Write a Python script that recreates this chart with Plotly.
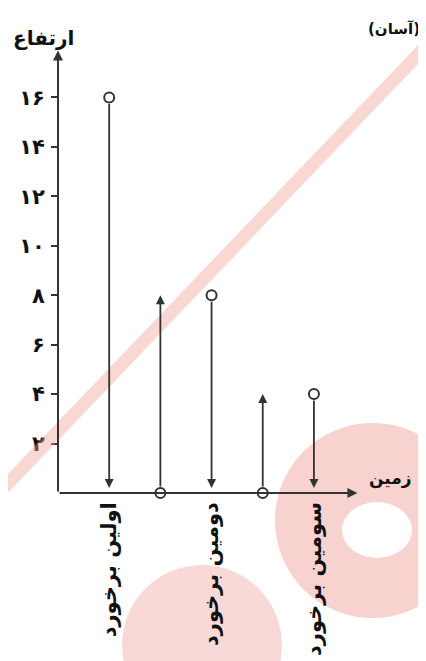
import plotly.graph_objects as go

# bounce data (height vs time)
drop_times = [1, 3, 5]
drop_heights = [16, 8, 4]
rise_times = [2, 4]
rise_heights = [8, 4]
impact_labels = ["اولین برخورد", "دومین برخورد", "سومین برخورد"]
ytick_vals = [2, 4, 6, 8, 10, 12, 14, 16]
ytick_text = ["۲", "۴", "۶", "۸", "۱۰", "۱۲", "۱۴", "۱۶"]

# the page body adds an 8px margin, so the figure is 8px smaller
OFF = 8
W, H = 426 - OFF, 661 - OFF
L, R, T, B = 50, 66, 40, 168
pw, ph = W - L - R, H - T - B
def px(x):
    return (x - OFF - L) / pw
def py(y):
    return (H - B - (y - OFF)) / ph

ink = "#333333"
fig = go.Figure()

# circles: top of each fall, bottom of each rise
fig.add_trace(go.Scatter(
    x=drop_times + rise_times,
    y=drop_heights + [0] * len(rise_times),
    mode="markers", cliponaxis=False, showlegend=False,
    marker=dict(symbol="circle", size=10, color="white", line=dict(color=ink, width=2))))

anns = []
# axes with arrows
anns.append(dict(x=5.85, y=0, ax=0, ay=0, xref="x", yref="y", axref="x", ayref="y",
                 text="", showarrow=True, arrowhead=2, arrowwidth=2, arrowcolor=ink))
anns.append(dict(x=0, y=17.9, ax=0, ay=0, xref="x", yref="y", axref="x", ayref="y",
                 text="", showarrow=True, arrowhead=2, arrowwidth=2, arrowcolor=ink))
for t, h in zip(drop_times, drop_heights):
    anns.append(dict(x=t, y=0.2, ax=t, ay=h, xref="x", yref="y", axref="x", ayref="y",
                     text="", showarrow=True, arrowhead=2, arrowwidth=1.8, arrowcolor=ink,
                     startstandoff=5))
for t, h in zip(rise_times, rise_heights):
    anns.append(dict(x=t, y=h, ax=t, ay=0, xref="x", yref="y", axref="x", ayref="y",
                     text="", showarrow=True, arrowhead=2, arrowwidth=1.8, arrowcolor=ink,
                     startstandoff=5))

bold = dict(family="DejaVu Sans", color="#111111", weight="bold")
anns.append(dict(x=px(11), y=py(24), xref="paper", yref="paper", text="ارتفاع",
                 showarrow=False, font=dict(size=20, **bold)))
anns.append(dict(x=px(414), y=py(491), xref="paper", yref="paper", text="زمین",
                 showarrow=False, font=dict(size=17, **bold)))
anns.append(dict(x=px(366), y=py(18), xref="paper", yref="paper", text="(آسان)",
                 xanchor="left", showarrow=False, font=dict(size=15, **bold)))

# pink watermark
pink = "rgba(240,160,150,0.42)"
shapes = [
    dict(type="line", xref="paper", yref="paper", x0=px(-5), y0=py(497), x1=px(432), y1=py(40),
         line=dict(color=pink, width=13), layer="above"),
    dict(type="circle", xref="paper", yref="paper", x0=px(275), y0=py(423), x1=px(470), y1=py(618),
         fillcolor="rgba(240,165,160,0.5)", line=dict(width=0), layer="below"),
    dict(type="circle", xref="paper", yref="paper", x0=px(342), y0=py(502), x1=px(412), y1=py(558),
         fillcolor="white", line=dict(width=0), layer="below"),
    dict(type="circle", xref="paper", yref="paper", x0=px(122), y0=py(565), x1=px(282), y1=py(725),
         fillcolor="rgba(240,165,160,0.42)", line=dict(width=0), layer="below"),
]

fig.update_layout(
    width=W, height=H, margin=dict(l=L, r=R, t=T, b=B),
    paper_bgcolor="white", plot_bgcolor="rgba(0,0,0,0)",
    annotations=anns, shapes=shapes,
    xaxis=dict(range=[0, 5.9], showgrid=False, zeroline=False, showline=False,
               automargin=False,
               tickvals=drop_times, ticktext=impact_labels, tickangle=-90,
               ticks="", ticklabelstandoff=4, tickfont=dict(size=21, **bold)),
    yaxis=dict(range=[0, 18], showgrid=False, zeroline=False, showline=False,
               automargin=False,
               tickvals=ytick_vals, ticktext=ytick_text, ticks="outside", ticklen=6,
               tickwidth=1.5, tickcolor=ink, ticklabelstandoff=2,
               tickfont=dict(size=21, **bold)),
)

fig.write_html("out.html")
